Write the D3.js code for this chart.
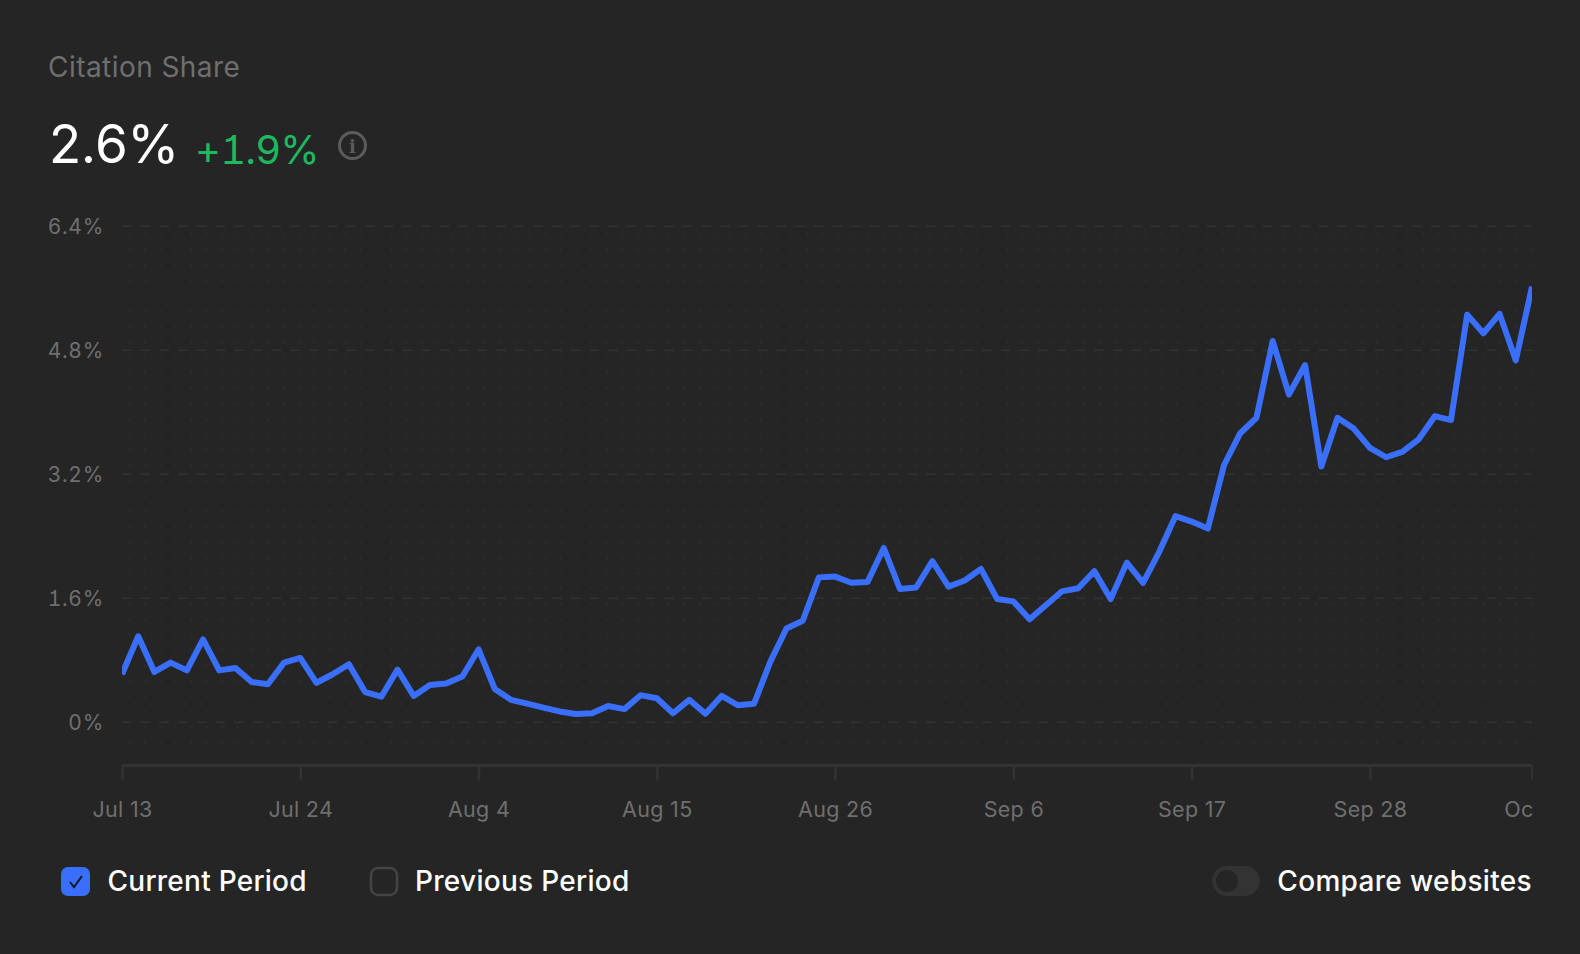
<!DOCTYPE html>
<html><head><meta charset="utf-8">
<script src="https://cdn.jsdelivr.net/npm/d3@7"></script>
<style>html,body{margin:0;padding:0;background:#252525}svg{display:block}text{font-family:Inter,sans-serif}.num{font-feature-settings:"tnum" 1,"cv01" 1}</style>
</head><body><svg id="c" width="1580" height="954"></svg>
<script>
const startDate = new Date(2025, 6, 13);
const citationShare = [0.62,1.11,0.65,0.77,0.67,1.07,0.67,0.70,0.52,0.49,0.77,0.83,0.51,0.62,0.75,0.39,0.33,0.68,0.34,0.48,0.50,0.59,0.94,0.43,0.29,0.24,0.19,0.14,0.107,0.116,0.21,0.17,0.35,0.31,0.116,0.29,0.11,0.34,0.22,0.24,0.78,1.21,1.31,1.87,1.88,1.80,1.81,2.25,1.72,1.74,2.08,1.75,1.83,1.98,1.59,1.56,1.33,1.51,1.69,1.73,1.95,1.59,2.06,1.80,2.20,2.66,2.59,2.50,3.32,3.73,3.93,4.92,4.23,4.61,3.30,3.93,3.79,3.54,3.42,3.49,3.65,3.95,3.90,5.26,5.02,5.27,4.67,5.62];
const yTicks = [0,1.6,3.2,4.8,6.4];
const xTickDays = [0,11,22,33,44,55,66,77,87];
const title = "Citation Share", value = "2.6%", delta = "+1.9%";

const dates = citationShare.map((_,i)=>d3.timeDay.offset(startDate,i));
const x = d3.scaleTime().domain([startDate,dates[dates.length-1]]).range([122,1532]);
const y = d3.scaleLinear().domain([0,6.4]).range([722.3,226.3]);
const svg = d3.select("#c");
const grid="#333333", muted="#6f6f6f";

const defs = svg.append("defs");
defs.append("clipPath").attr("id","plot").append("rect").attr("x",122).attr("y",200).attr("width",1410).attr("height",560);
defs.append("clipPath").attr("id","axisclip").append("rect").attr("x",60).attr("y",-10).attr("width",1473).attr("height",80);
const pat = defs.append("pattern").attr("id","dots").attr("patternUnits","userSpaceOnUse").attr("x",128.5).attr("y",233.3).attr("width",15.4).attr("height",15.4);
pat.append("rect").attr("width",2).attr("height",2).attr("fill","#2c2c2c");
svg.append("rect").attr("x",128).attr("y",233).attr("width",1404).attr("height",512).attr("fill","url(#dots)");

svg.append("text").attr("x",48).attr("y",77).attr("font-size",28).attr("letter-spacing",0.45).attr("fill",muted).text(title);
svg.append("text").attr("class","num").attr("x",48).attr("y",163).attr("font-size",53).attr("letter-spacing",-1.2).attr("fill","#fff").text(value);
svg.append("text").attr("class","num").attr("x",195).attr("y",164).attr("font-size",40).attr("letter-spacing",-0.8).attr("fill","#1db860").text(delta);
const info = svg.append("g").attr("transform","translate(352.5,145.5)");
info.append("circle").attr("r",13).attr("fill","none").attr("stroke","#5c5c5c").attr("stroke-width",3);
info.append("text").attr("text-anchor","middle").attr("y",7).attr("font-size",18).attr("font-weight",700).style("font-family","DejaVu Serif").attr("fill","#5c5c5c").text("i");

const gy = svg.append("g").selectAll("g").data(yTicks).join("g").attr("transform",d=>`translate(0,${y(d)})`);
gy.append("line").attr("x1",122).attr("x2",1532).attr("stroke",grid).attr("stroke-width",1.5).attr("stroke-dasharray","9.5 9.2");
gy.append("text").attr("class","num").attr("x",104).attr("y",7.5).attr("text-anchor","end").attr("font-size",21).attr("letter-spacing",0.7).attr("fill",muted).text(d=>d+"%");

const axis = d3.axisBottom(x).tickValues(xTickDays.map(i=>dates[i])).tickFormat(d3.timeFormat("%b %-d")).tickSize(14).tickPadding(0);
const gx = svg.append("g").attr("transform","translate(0,765.5)").attr("clip-path","url(#axisclip)").call(axis);
gx.select(".domain").attr("stroke",grid).attr("stroke-width",3).attr("d","M122,0H1532");
gx.selectAll(".tick line").attr("stroke",grid).attr("stroke-width",2.5);
gx.selectAll(".tick text").attr("y",51.8).attr("dy",0).attr("font-size",21.5).attr("letter-spacing",0.3).attr("fill",muted).attr("font-family",null);

svg.append("path").datum(citationShare).attr("clip-path","url(#plot)").attr("fill","none").attr("stroke","#3a6ffb").attr("stroke-width",6).attr("stroke-linejoin","round")
  .attr("d",d3.line().x((d,i)=>x(dates[i])).y(d=>y(d)));

const lg = svg.append("g");
lg.append("rect").attr("x",61).attr("y",867).attr("width",29).attr("height",29).attr("rx",7).attr("fill","#3a6ffb");
lg.append("path").attr("d","M70 882l4 5 8-11").attr("fill","none").attr("stroke","#15172a").attr("stroke-width",2);
lg.append("text").attr("x",107.5).attr("y",891).attr("font-size",28).attr("font-weight",500).attr("letter-spacing",0.25).attr("fill","#fff").text("Current Period");
lg.append("rect").attr("x",371).attr("y",868).attr("width",26).attr("height",27).attr("rx",7).attr("fill","none").attr("stroke","#444").attr("stroke-width",2.5);
lg.append("text").attr("x",415).attr("y",891).attr("font-size",28).attr("font-weight",500).attr("letter-spacing",0.28).attr("fill","#fff").text("Previous Period");
lg.append("rect").attr("x",1212).attr("y",866).attr("width",48).attr("height",30).attr("rx",15).attr("fill","#333");
lg.append("circle").attr("cx",1227).attr("cy",881).attr("r",11).attr("fill","#252525");
lg.append("text").attr("x",1532).attr("y",891).attr("text-anchor","end").attr("font-size",28).attr("font-weight",500).attr("letter-spacing",0.33).attr("fill","#fff").text("Compare websites");
</script></body></html>
